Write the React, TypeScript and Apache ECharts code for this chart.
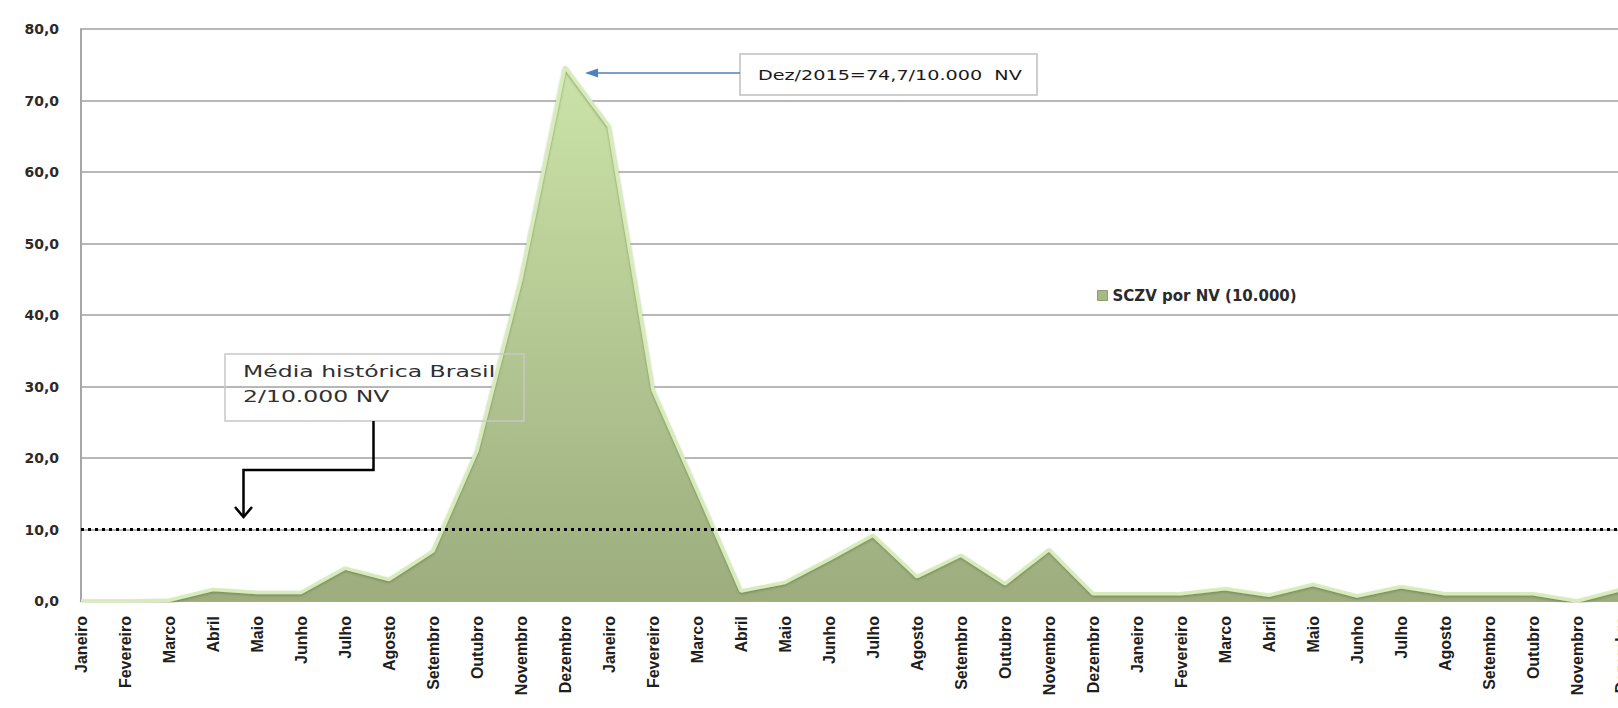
import React, { useEffect, useRef } from "react";
import * as echarts from "echarts";

const categories = [
  "Janeiro", "Fevereiro", "Marco", "Abril", "Maio", "Junho", "Julho", "Agosto", "Setembro", "Outubro", "Novembro", "Dezembro",
  "Janeiro", "Fevereiro", "Marco", "Abril", "Maio", "Junho", "Julho", "Agosto", "Setembro", "Outubro", "Novembro", "Dezembro",
  "Janeiro", "Fevereiro", "Marco", "Abril", "Maio", "Junho", "Julho", "Agosto", "Setembro", "Outubro", "Novembro", "Dezembro",
];

const sczvValues = [
  0, 0, 0.1, 1.6, 1.2, 1.2, 4.6, 3.0, 7.0, 21.0, 45.0, 74.7,
  66.4, 29.5, 15.5, 1.4, 2.6, 5.8, 9.2, 3.4, 6.4, 2.4, 7.2, 1.0,
  1.0, 1.0, 1.7, 0.8, 2.3, 0.7, 2.0, 1.0, 1.0, 1.0, 0.0, 1.6,
];

const seriesName = "SCZV por NV (10.000)";
const thresholdValue = 10;
const peakNote = "Dez/2015=74,7/10.000  NV";
const avgNoteLines = ["Média histórica Brasil", "2/10.000 NV"];

export default function App() {
  const ref = useRef<HTMLDivElement>(null);

  useEffect(() => {
    const chart = echarts.init(ref.current!, null, { renderer: "svg" });
    const areaGradient = new echarts.graphic.LinearGradient(0, 0, 0, 1, [
      { offset: 0, color: "#cbe3a8" },
      { offset: 1, color: "#9dad7e" },
    ]);
    chart.setOption({
      animation: false,
      backgroundColor: "#ffffff",
      grid: {
        left: 81,
        right: -3,
        top: 29,
        bottom: 107,
        containLabel: false,
        outerBoundsMode: "none",
      },
      legend: {
        left: 1092,
        top: 283,
        icon: "rect",
        itemWidth: 10,
        itemHeight: 10,
        itemStyle: { color: "#a6b987", borderColor: "#8d9d70", borderWidth: 1 },
        textStyle: {
          fontFamily: "DejaVu Sans",
          fontSize: 15,
          fontWeight: "bold",
          color: "#2a2a2a",
        },
        data: [seriesName],
      },
      xAxis: {
        type: "category",
        data: categories,
        boundaryGap: false,
        axisLine: { show: true, lineStyle: { color: "#a6a6a6", width: 2 } },
        axisTick: { show: false },
        axisLabel: {
          interval: 0,
          rotate: 90,
          margin: 15,
          fontFamily: "Liberation Sans",
          fontSize: 16,
          fontWeight: "bold",
          color: "#1e1e1e",
        },
        splitLine: { show: false },
      },
      yAxis: {
        type: "value",
        min: 0,
        max: 80,
        interval: 10,
        axisLine: { show: true, lineStyle: { color: "#a6a6a6", width: 2 } },
        axisTick: { show: false },
        axisLabel: {
          margin: 22,
          fontFamily: "DejaVu Sans",
          fontSize: 14,
          fontWeight: "bold",
          color: "#2e2a26",
          formatter: (v: number) => v.toFixed(1).replace(".", ","),
        },
        splitLine: { show: true, lineStyle: { color: "#a0a0a0", width: 1.5 } },
      },
      series: [
        {
          name: seriesName,
          type: "line",
          data: sczvValues,
          showSymbol: false,
          symbol: "none",
          silent: true,
          color: "#a6b987",
          lineStyle: {
            color: "#d8ecbb",
            width: 3.5,
            shadowColor: "rgba(90,110,60,0.55)",
            shadowBlur: 2,
            shadowOffsetY: 1.5,
          },
          areaStyle: { color: areaGradient, opacity: 1 },
          emphasis: { disabled: true },
          markLine: {
            silent: true,
            symbol: ["none", "none"],
            label: { show: false },
            lineStyle: { color: "#000000", width: 3, type: [3, 4] },
            data: [{ yAxis: thresholdValue }],
          },
        },
      ],
      graphic: [
        {
          type: "rect",
          z: 100,
          shape: { x: 740, y: 54, width: 297, height: 41 },
          style: { fill: "#ffffff", stroke: "#bfbfbf", lineWidth: 1.5 },
        },
        {
          type: "text",
          z: 101,
          x: 758,
          y: 75,
          scaleX: 1.37,
          style: {
            text: peakNote,
            font: "14px 'DejaVu Sans'",
            fill: "#1a1a1a",
            verticalAlign: "middle",
          },
        },
        {
          type: "line",
          z: 100,
          shape: { x1: 596, y1: 73, x2: 740, y2: 73 },
          style: { stroke: "#4f81bd", lineWidth: 1.5 },
        },
        {
          type: "polygon",
          z: 100,
          shape: { points: [[585, 73], [598, 68.5], [598, 77.5]] },
          style: { fill: "#4f81bd" },
        },
        {
          type: "rect",
          z: 100,
          shape: { x: 225, y: 354, width: 299, height: 67 },
          style: { fill: "none", stroke: "#c8c8c8", lineWidth: 1.5 },
        },
        {
          type: "text",
          z: 101,
          x: 243,
          y: 372,
          scaleX: 1.57,
          style: {
            text: avgNoteLines[0],
            font: "15px 'DejaVu Sans'",
            fill: "#303030",
            verticalAlign: "middle",
          },
        },
        {
          type: "text",
          z: 101,
          x: 243,
          y: 397,
          scaleX: 1.57,
          style: {
            text: avgNoteLines[1],
            font: "15px 'DejaVu Sans'",
            fill: "#303030",
            verticalAlign: "middle",
          },
        },
        {
          type: "polyline",
          z: 100,
          shape: { points: [[373.5, 421], [373.5, 470], [243.5, 470], [243.5, 517]] },
          style: { stroke: "#000000", lineWidth: 2.5, fill: "none" },
        },
        {
          type: "polyline",
          z: 100,
          shape: { points: [[235, 507], [243.5, 517], [252, 507]] },
          style: { stroke: "#000000", lineWidth: 2.5, fill: "none" },
        },
      ],
    });
    return () => chart.dispose();
  }, []);

  return (
    <div
      ref={ref}
      style={{ position: "absolute", left: 0, top: 0, width: 1618, height: 708, background: "#ffffff" }}
    />
  );
}
